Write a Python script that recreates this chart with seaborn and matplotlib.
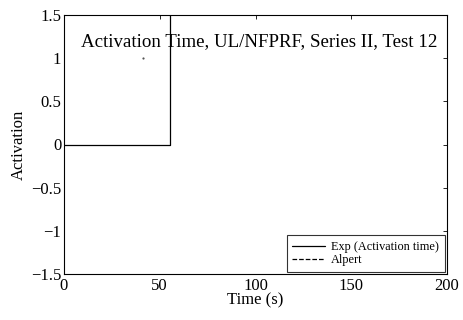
import matplotlib
matplotlib.use("Agg")
import matplotlib.pyplot as plt
import seaborn as sns
import pandas as pd

# Measured activation record (jump at sprinkler activation)
exp_time = [0, 55.4, 55.4, 200]
exp_activation = [0, 0, 2.0, 2.0]

# Alpert correlation prediction
alpert_time = [41.0]
alpert_activation = [1.0]

x_ticks = [0, 50, 100, 150, 200]
y_ticks = [-1.5, -1, -0.5, 0, 0.5, 1, 1.5]
y_tick_labels = ["\u22121.5", "\u22121", "\u22120.5", "0", "0.5", "1", "1.5"]

sns.set_style("white")
plt.rcParams["font.family"] = ["Liberation Serif", "DejaVu Serif"]
plt.rcParams["text.color"] = "black"
plt.rcParams["axes.labelcolor"] = "black"
plt.rcParams["xtick.color"] = "black"
plt.rcParams["ytick.color"] = "black"

fig = plt.figure(figsize=(4.63, 3.2), dpi=100)
ax = fig.add_axes([64 / 463, 1 - 274 / 320, 383 / 463, 259 / 320])

exp_df = pd.DataFrame({"Time": exp_time, "Activation": exp_activation})
alp_df = pd.DataFrame({"Time": alpert_time, "Activation": alpert_activation})

sns.lineplot(data=exp_df, x="Time", y="Activation", ax=ax, color="black",
             linewidth=0.9, sort=False, estimator=None,
             label="Exp (Activation time)")
sns.lineplot(data=alp_df, x="Time", y="Activation", ax=ax, color="black",
             linewidth=0.9, linestyle="--", estimator=None,
             label="Alpert")
# the single Alpert point shows as a tiny dot
sns.scatterplot(data=alp_df, x="Time", y="Activation", ax=ax,
                color="#555555", s=2.5, linewidth=0, legend=False)

ax.set_xlim(0, 200)
ax.set_ylim(-1.5, 1.5)
ax.set_xticks(x_ticks)
ax.set_yticks(y_ticks)
ax.set_yticklabels(y_tick_labels)
ax.tick_params(direction="in", length=3, width=0.6, labelsize=12,
               top=True, right=True, colors="black")
ax.tick_params(axis="x", pad=3)
ax.tick_params(axis="y", pad=2)
for s in ax.spines.values():
    s.set_linewidth(0.8)
    s.set_color("black")

ax.set_xlabel("Time (s)", fontsize=12, labelpad=-1, color="black")
ax.set_ylabel("Activation", fontsize=12, labelpad=3, color="black")

ax.text(102, 1.19, "Activation Time, UL/NFPRF, Series II, Test 12",
        ha="center", va="center", fontsize=13.6, color="black")

handles, labels = ax.get_legend_handles_labels()
leg = ax.legend(handles, labels, loc="lower right", fontsize=8.8,
                frameon=True, fancybox=False, edgecolor="black",
                borderpad=0.45, labelspacing=0.1, handlelength=2.7,
                handletextpad=0.5, borderaxespad=0.2)
leg.get_frame().set_linewidth(0.8)
for t in leg.get_texts():
    t.set_color("black")

fig.savefig("out.png", dpi=100)
